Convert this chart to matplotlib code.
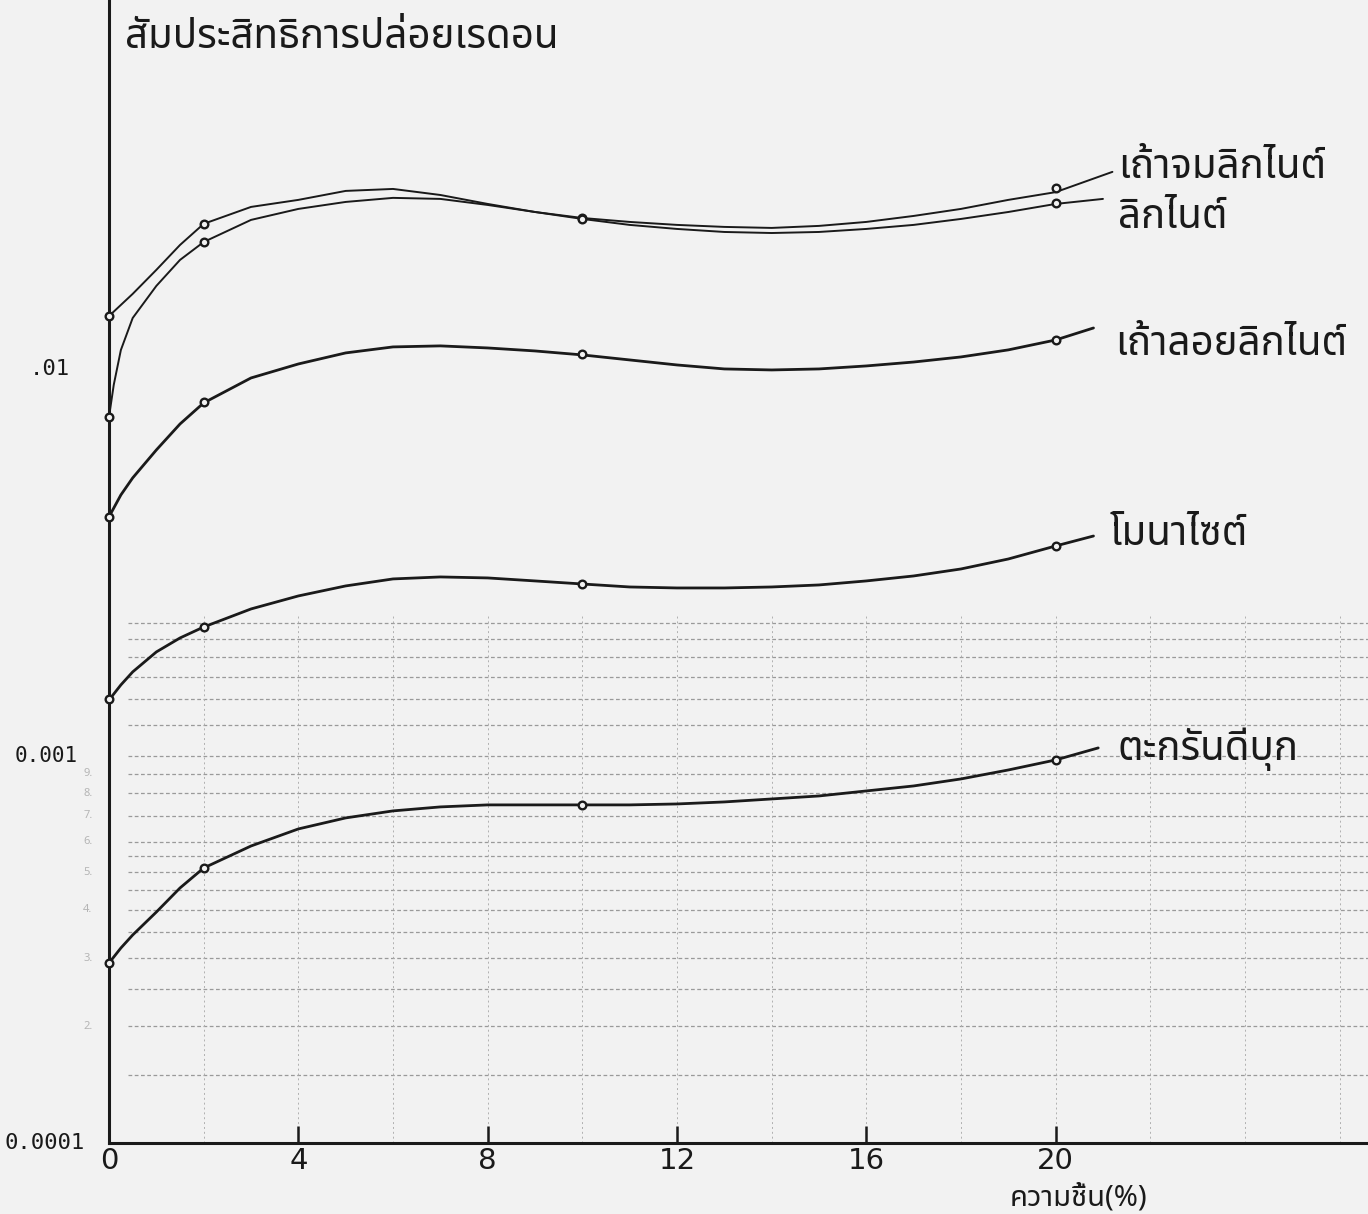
import numpy as np
import matplotlib
matplotlib.use('Agg')
import matplotlib.pyplot as plt
import matplotlib.transforms as mtransforms
from matplotlib import font_manager

# --- data ---
# measured points (moisture %, radon emanation coefficient)
x_pts = [0, 2, 10, 20]
ash_bottom_pts = [0.0137, 0.0237, 0.0246, 0.0294]    # เถ้าจมลิกไนต์
lignite_pts = [0.00752, 0.0213, 0.0244, 0.0268]      # ลิกไนต์
fly_ash_pts = [0.00415, 0.0082, 0.0109, 0.0119]      # เถ้าลอยลิกไนต์
monazite_pts = [0.00140, 0.00215, 0.00278, 0.00349]  # โมนาไซต์
tin_slag_pts = [0.000292, 0.000514, 0.000747, 0.000977]  # ตะกรันดีบุก

# hand drawn smooth curves
ash_bottom_x = [0, 0.5, 1, 1.5, 2, 3, 4, 5, 6, 7, 8, 9, 10, 11, 12, 13, 14,
                15, 16, 17, 18, 19, 20, 21.2]
ash_bottom_y = [0.0137, 0.01563, 0.01803, 0.02091, 0.02371, 0.02622, 0.02734,
                0.02884, 0.02918, 0.02815, 0.02669, 0.02544, 0.02455, 0.02398,
                0.02356, 0.02328, 0.02314, 0.02342, 0.02398, 0.02485, 0.02591,
                0.02734, 0.02863, 0.0323]
lignite_x = [0, 0.1, 0.25, 0.5, 1, 1.5, 2, 3, 4, 5, 6, 7, 8, 9, 10, 11, 12, 13,
             14, 15, 16, 17, 18, 19, 20, 21]
lignite_y = [0.00752, 0.00910, 0.01119, 0.01354, 0.01639, 0.01913, 0.02128,
             0.02427, 0.02591, 0.02701, 0.02767, 0.02750, 0.02653, 0.02544,
             0.02441, 0.02356, 0.02300, 0.02259, 0.02245, 0.02259, 0.02300,
             0.02356, 0.02441, 0.02544, 0.02669, 0.02750]
fly_ash_x = [0, 0.25, 0.5, 1, 1.5, 2, 3, 4, 5, 6, 7, 8, 9, 10, 11, 12, 13, 14,
             15, 16, 17, 18, 19, 20, 20.8]
fly_ash_y = [0.00415, 0.004725, 0.00523, 0.006176, 0.007208, 0.008172, 0.009478,
             0.0103, 0.0110, 0.0114, 0.01147, 0.01133, 0.01113, 0.01087, 0.01055,
             0.01024, 0.0100, 0.00994, 0.0100, 0.01018, 0.01042, 0.01074, 0.0112,
             0.01188, 0.01276]
monazite_x = [0, 0.25, 0.5, 1, 1.5, 2, 3, 4, 5, 6, 7, 8, 9, 10, 11, 12, 13, 14,
              15, 16, 17, 18, 19, 20, 20.8]
monazite_y = [0.001395, 0.001526, 0.001649, 0.001857, 0.002018, 0.002154,
              0.002398, 0.002591, 0.00275, 0.002867, 0.002901, 0.002884,
              0.002833, 0.002782, 0.002733, 0.002717, 0.002717, 0.002733,
              0.002766, 0.002833, 0.002918, 0.003042, 0.003228, 0.003488, 0.003701]
tin_slag_x = [0, 0.25, 0.5, 1, 1.5, 2, 3, 4, 5, 6, 7, 8, 9, 10, 11, 12, 13, 14,
              15, 16, 17, 18, 19, 20, 20.9]
tin_slag_y = [0.0002918, 0.000319, 0.0003447, 0.0003951, 0.000456, 0.0005135,
              0.0005853, 0.0006478, 0.0006917, 0.0007212, 0.0007385, 0.0007474,
              0.0007474, 0.0007474, 0.0007474, 0.0007516, 0.0007607, 0.0007743,
              0.0007882, 0.0008121, 0.0008366, 0.0008722, 0.00092, 0.0009765, 0.001049]

curve_labels = ['เถ้าจมลิกไนต์', 'ลิกไนต์', 'เถ้าลอยลิกไนต์', 'โมนาไซต์', 'ตะกรันดีบุก']
x_ticks = [0, 4, 8, 12, 16, 20]
y_ticks = [0.0001, 0.001, 0.01]
y_tick_labels = ['0.0001', '0.001', '.01']
minor_vals = [2, 3, 4, 5, 6, 7, 8, 9]


# pick a font that actually has Thai glyphs
def find_thai_font():
    try:
        from fontTools.ttLib import TTFont
    except ImportError:
        return None
    prefer = ['Noto Sans Thai', 'Noto Sans Thai Looped', 'Loma', 'Garuda', 'Norasi',
              'Kinnari', 'Sawasdee', 'Umpush', 'Waree', 'Tlwg Typo', 'Laksaman']
    found = []
    for f in font_manager.fontManager.ttflist:
        try:
            tt = TTFont(f.fname, fontNumber=0, lazy=True)
            cmap = tt.getBestCmap()
            if cmap and 0x0E01 in cmap and 0x0E49 in cmap:
                found.append(f.name)
        except Exception:
            pass
    for p in prefer:
        if p in found:
            return p
    return found[0] if found else None


thai = find_thai_font()
fam = [thai, 'DejaVu Sans'] if thai else ['DejaVu Sans']
plt.rcParams['font.family'] = fam

ink = '#1a1a1a'
paper = '#f2f2f2'
fig = plt.figure(figsize=(13.68, 12.14), dpi=100, facecolor=paper)
ax = fig.add_axes([0.0797, 0.0585, 0.9203, 0.9415])
ax.set_facecolor(paper)
ax.set_yscale('log')
ax.set_xlim(0, 26.6)
ax.set_ylim(0.0001, 0.0898)

# faint graph-paper grid in the lower part
grid_y = [m * 1e-4 for m in [1.5, 2, 2.5, 3, 3.5, 4, 4.5, 5, 5.5, 6, 7, 8, 9]] + \
         [m * 1e-3 for m in [1, 1.2, 1.4, 1.6, 1.8, 2.0, 2.2]]
for gy in grid_y:
    ax.plot([0.4, 26.6], [gy, gy], color='#9a9a9a', lw=0.9, ls=(0, (3, 2)), zorder=1)
for gx in np.arange(2, 27, 2):
    ax.plot([gx, gx], [0.0001, 0.0023], color='#b0b0b0', lw=0.7, ls=(0, (2, 3)), zorder=1)

curves = [(ash_bottom_x, ash_bottom_y, ash_bottom_pts, 1.4),
          (lignite_x, lignite_y, lignite_pts, 1.4),
          (fly_ash_x, fly_ash_y, fly_ash_pts, 2.0),
          (monazite_x, monazite_y, monazite_pts, 2.0),
          (tin_slag_x, tin_slag_y, tin_slag_pts, 2.0)]
for cx, cy, pts, lw in curves:
    ax.plot(cx, cy, color=ink, lw=lw, solid_joinstyle='round', solid_capstyle='round', zorder=3)
    ax.plot(x_pts, pts, 'o', ms=5.5, mfc=paper, mec=ink, mew=1.7, zorder=4, clip_on=False)

# curve names at the right ends (baseline positions)
label_pos = [(21.31, 0.03115), (21.31, 0.02314), (21.25, 0.01087),
             (21.14, 0.003509), (21.31, 0.0009765)]
for (lx, ly), txt in zip(label_pos, curve_labels):
    ax.text(lx, ly, txt, fontsize=29, color=ink, ha='left', va='baseline',
            fontweight='medium')

# axes
for s in ['top', 'right']:
    ax.spines[s].set_visible(False)
ax.spines['left'].set_linewidth(2.2)
ax.spines['bottom'].set_linewidth(2.2)
ax.spines['left'].set_color(ink)
ax.spines['bottom'].set_color(ink)

ax.set_xticks(x_ticks)
ax.set_xticklabels([str(t) for t in x_ticks], fontsize=21, color=ink,
                   family='DejaVu Sans')
ax.tick_params(axis='x', direction='in', length=12, width=1.8, pad=3, colors=ink)
ax.set_yticks([])
ax.yaxis.set_minor_locator(matplotlib.ticker.NullLocator())

# y labels drawn by hand on the scan: each has its own left edge
trans = mtransforms.blended_transform_factory(fig.transFigure, ax.transData)
ylab_left = [5, 15, 30]
ylab_size = [16, 15, 16]
for val, lab, lx, fs in zip(y_ticks, y_tick_labels, ylab_left, ylab_size):
    ax.text(lx / 1368, val, lab, transform=trans, fontsize=fs, color=ink,
            ha='left', va='center', family='DejaVu Sans Mono')

# faint minor value marks next to the axis in the lowest decade
for m in minor_vals:
    ax.text(-0.35, m * 1e-4, str(m) + '.', fontsize=8, color='#b5b5b5', ha='right', va='center')

fig.text(1078 / 1368, 2 / 1214, 'ความชื้น(%)', fontsize=21,
         color=ink, ha='center', va='bottom')
fig.text(125 / 1368, 1 - 48 / 1214, 'สัมประสิทธิการปล่อยเรดอน', fontsize=29,
         color=ink, ha='left', va='baseline')

fig.savefig('out.png', dpi=100, facecolor=fig.get_facecolor())
